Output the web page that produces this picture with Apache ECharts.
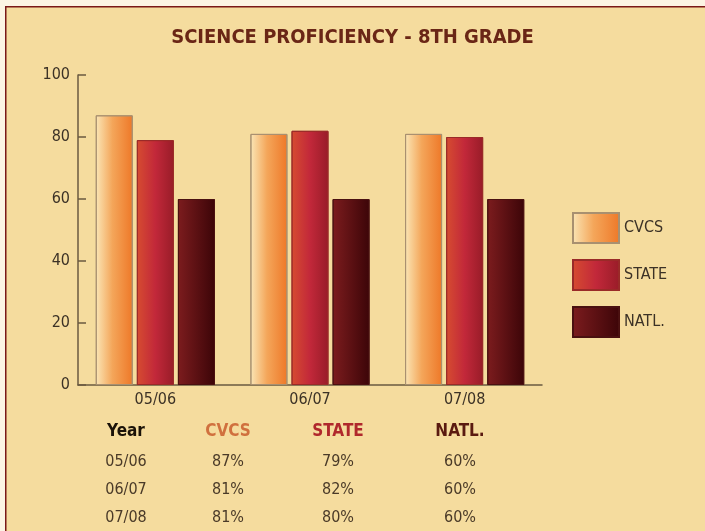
<!DOCTYPE html>
<html>
<head>
<meta charset="utf-8">
<script src="https://cdn.jsdelivr.net/npm/echarts@6/dist/echarts.min.js"></script>
<style>
  * { margin: 0; padding: 0; }
  body { background: #fcf4e4; }
  #chart { width: 705px; height: 531px; }
</style>
</head>
<body>
<div id="chart"></div>
<script>
// data
var years = ["05/06", "06/07", "07/08"];
var seriesNames = ["CVCS", "STATE", "NATL."];
var cvcs = [87, 81, 81];
var state = [79, 82, 80];
var natl = [60, 60, 60];
var yTicks = [0, 20, 40, 60, 80, 100];

var chart = echarts.init(document.getElementById("chart"));
var font = "'Liberation Sans Narrow', 'DejaVu Sans Condensed', sans-serif";
var txt = "#3c3226";

function grad(stops) {
  return new echarts.graphic.LinearGradient(0, 0, 1, 0, stops.map(function (s) {
    return { offset: s[0], color: s[1] };
  }));
}
var colors = [
  grad([[0, "#fae6b6"], [0.45, "#f4a65a"], [1, "#ee7828"]]),
  grad([[0, "#d64c30"], [0.5, "#c2283a"], [1, "#981c28"]]),
  grad([[0, "#7c1c1e"], [1, "#3c0508"]])
];
var borders = ["#a89070", "#9a2a28", "#4a1010"];

// table below the chart, built from the arrays
var colX = [126, 228, 338, 460];
var headColors = ["#1a1208", "#d0703e", "#b0282c", "#5a1a10"];
var headers = ["Year"].concat(seriesNames);
var graphics = [
  { type: "rect", left: 5, top: 6, shape: { width: 705, height: 530 },
    style: { fill: "#f5dc9e", stroke: "#7a1818", lineWidth: 1.5 }, z: -10 }
];
headers.forEach(function (h, i) {
  graphics.push({ type: "text", x: colX[i], y: 432,
    style: { text: h, fill: headColors[i], font: "bold 17px " + font, textAlign: "center", textVerticalAlign: "middle" } });
});
years.forEach(function (y, r) {
  var vals = [y, cvcs[r] + "%", state[r] + "%", natl[r] + "%"];
  vals.forEach(function (v, i) {
    graphics.push({ type: "text", x: colX[i], y: 462 + r * 28,
      style: { text: v, fill: "#4a3a28", font: "16px " + font, textAlign: "center", textVerticalAlign: "middle" } });
  });
});

var dataSets = [cvcs, state, natl];
chart.setOption({
  backgroundColor: "#fcf4e4",
  title: {
    text: "SCIENCE PROFICIENCY - 8TH GRADE",
    left: "center",
    top: 23,
    textStyle: { color: "#6a2616", fontSize: 20, fontWeight: "bold", fontFamily: font }
  },
  graphic: graphics,
  legend: {
    data: seriesNames.map(function (n) { return { name: n, icon: "rect" }; }),
    orient: "vertical",
    left: 567,
    top: 207,
    itemWidth: 46,
    itemHeight: 30,
    itemGap: 15,
    textStyle: { color: txt, fontSize: 16, fontFamily: font }
  },
  grid: { left: 78, top: 75, width: 464, height: 310 },
  xAxis: {
    type: "category",
    data: years,
    axisLine: { lineStyle: { color: "#6a5a40", width: 1.5 } },
    axisTick: { inside: true, length: 5, lineStyle: { color: "#6a5a40" } },
    axisLabel: { color: txt, fontSize: 16, fontFamily: font, margin: 7 }
  },
  yAxis: {
    type: "value",
    min: 0,
    max: 100,
    interval: 20,
    splitLine: { show: false },
    axisLine: { show: true, lineStyle: { color: "#6a5a40", width: 1.5 } },
    axisTick: { show: true, inside: true, length: 8, lineStyle: { color: "#6a5a40", width: 1.5 } },
    axisLabel: { color: txt, fontSize: 16, fontFamily: font, margin: 8 }
  },
  series: seriesNames.map(function (n, i) {
    return {
      name: n,
      type: "bar",
      data: dataSets[i],
      barWidth: 37,
      barGap: "11%",
      itemStyle: { color: colors[i], borderColor: borders[i], borderWidth: 1 }
    };
  })
});
</script>
</body>
</html>
